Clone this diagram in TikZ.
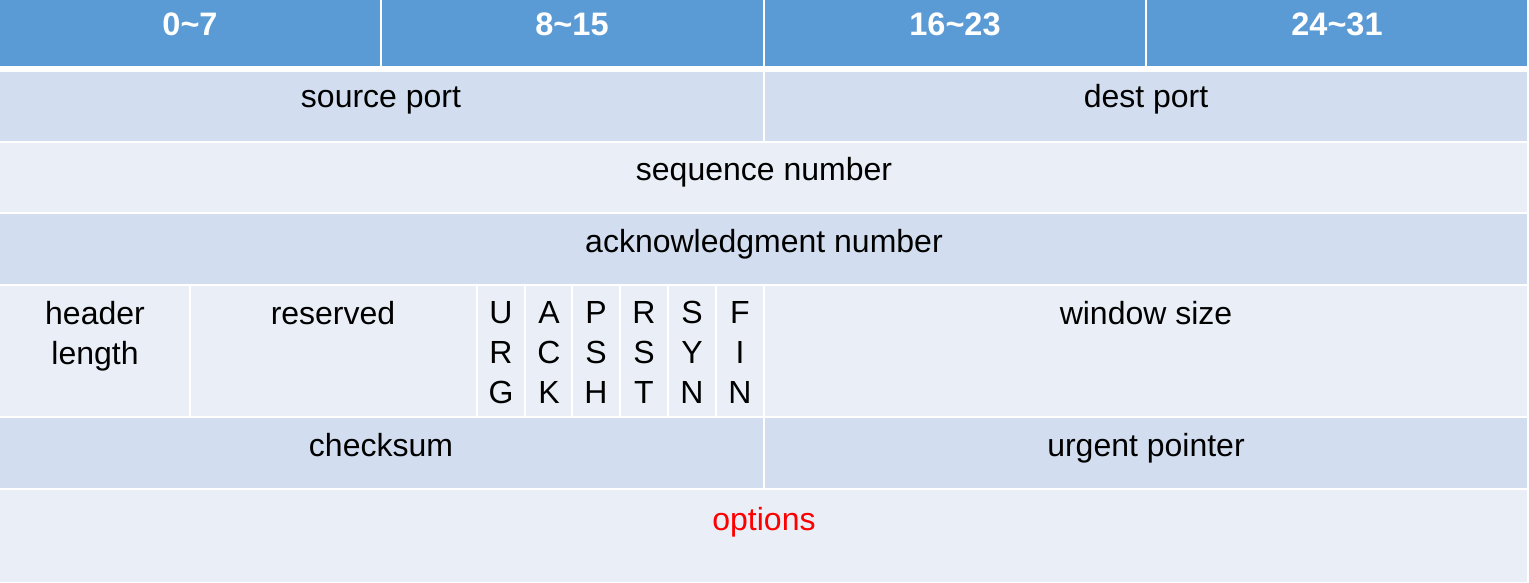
\documentclass[tikz,border=0pt]{standalone}
\usepackage{fontspec}
\setmainfont{Liberation Sans}
\definecolor{hdr}{HTML}{5B9BD5}
\definecolor{rowdark}{HTML}{D2DEEF}
\definecolor{rowlight}{HTML}{EAEFF7}
\definecolor{optred}{HTML}{FF0000}
\begin{document}
\begin{tikzpicture}[x=1pt,y=-1pt,
  cell/.style={fill=#1,draw=none},
  hlabel/.style={anchor=base,inner sep=0pt,text=white,font=\fontsize{32.5}{37}\selectfont\bfseries},
  label/.style={anchor=base,inner sep=0pt,text=black,font=\fontsize{32}{37}\selectfont},
  flag/.style={anchor=north,inner sep=0pt,text=black,font=\fontsize{32}{40}\selectfont,align=center}]
\fill[white] (0,0) rectangle (1529,583);
\useasboundingbox (0,0) rectangle (1529,583);
% header
\fill[cell=hdr] (0,0) rectangle (380,66);
\fill[cell=hdr] (382,0) rectangle (763,66);
\fill[cell=hdr] (765,0) rectangle (1145,66);
\fill[cell=hdr] (1147,0) rectangle (1527,66);
\node[hlabel] (h1) at (190,36) {0\char"7E 7};
\node[hlabel] (h2) at (572,36) {8\char"7E 15};
\node[hlabel] (h3) at (955,36) {16\char"7E 23};
\node[hlabel] (h4) at (1337,36) {24\char"7E 31};
% row 1
\fill[cell=rowdark] (0,72) rectangle (763,141);
\fill[cell=rowdark] (765,72) rectangle (1527,141);
\node[label] (sport) at (381,108) {source port};
\node[label] (dport) at (1146,108) {dest port};
% row 2
\fill[cell=rowlight] (0,143) rectangle (1527,212);
\node[label] (seq) at (764,180) {sequence number};
% row 3
\fill[cell=rowdark] (0,214) rectangle (1527,284);
\node[label] (ack) at (764,252) {acknowledgment number};
% row 4
\fill[cell=rowlight] (0,286) rectangle (189,416);
\fill[cell=rowlight] (191,286) rectangle (476,416);
\fill[cell=rowlight] (478,286) rectangle (524,416);
\fill[cell=rowlight] (526,286) rectangle (571,416);
\fill[cell=rowlight] (573,286) rectangle (619,416);
\fill[cell=rowlight] (621,286) rectangle (667,416);
\fill[cell=rowlight] (669,286) rectangle (715,416);
\fill[cell=rowlight] (717,286) rectangle (763,416);
\fill[cell=rowlight] (765,286) rectangle (1527,416);
\node[flag] (hlen) at (95,301) {header\\length};
\node[label] (resv) at (333,324) {reserved};
\node[flag] (urg) at (501,301) {U\\R\\G};
\node[flag] (ackf) at (549,301) {A\\C\\K};
\node[flag] (psh) at (596,301) {P\\S\\H};
\node[flag] (rst) at (644,301) {R\\S\\T};
\node[flag] (syn) at (692,301) {S\\Y\\N};
\node[flag] (fin) at (740,301) {F\\I\\N};
\node[label] (win) at (1146,324) {window size};
% row 5
\fill[cell=rowdark] (0,418) rectangle (763,488);
\fill[cell=rowdark] (765,418) rectangle (1527,488);
\node[label] (csum) at (381,456) {checksum};
\node[label] (urgp) at (1146,456) {urgent pointer};
% row 6
\fill[cell=rowlight] (0,490) rectangle (1527,582);
\node[label,text=optred] (opt) at (764,530) {options};
\end{tikzpicture}
\end{document}
